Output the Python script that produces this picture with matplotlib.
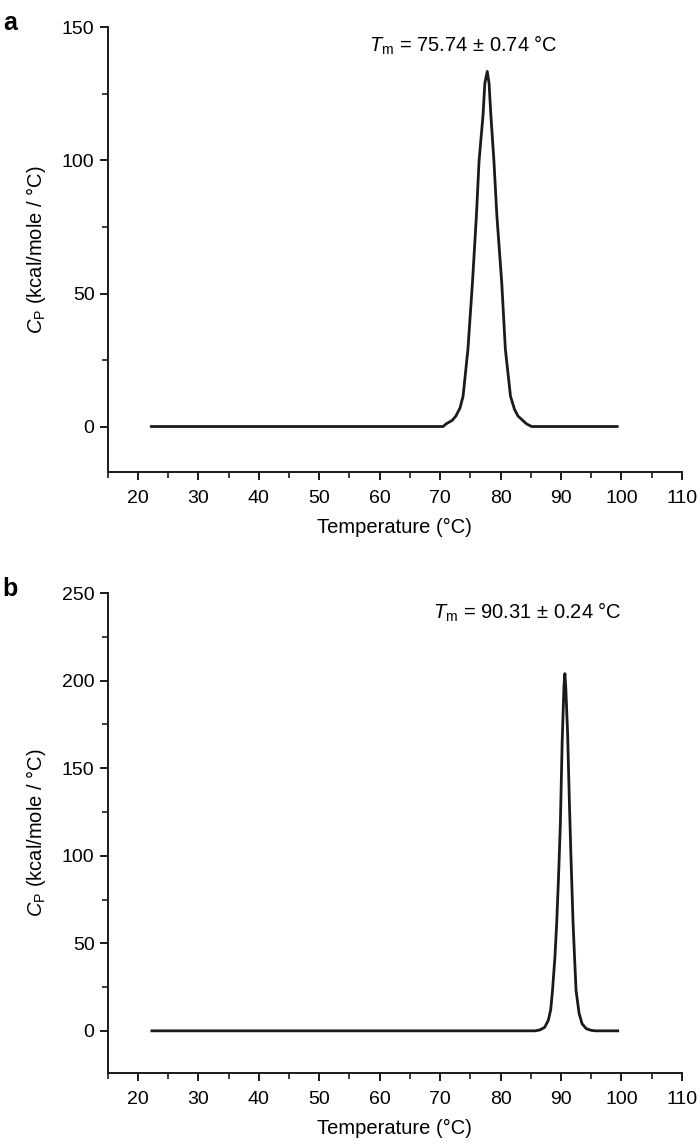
import matplotlib.pyplot as plt
from matplotlib.ticker import MultipleLocator

plt.rcParams['font.family'] = ['Liberation Sans', 'DejaVu Sans']
plt.rcParams['mathtext.fontset'] = 'custom'
plt.rcParams['mathtext.rm'] = 'Liberation Sans'
plt.rcParams['mathtext.it'] = 'Liberation Sans:italic'

# panel a: DSC trace
temp_a = [22.2, 70.5, 71.0, 72.0, 72.6, 73.3, 73.8, 74.6, 75.35, 76.0, 76.45, 77.1, 77.4, 77.8,
          78.1, 78.4, 78.9, 79.4, 80.2, 80.8, 81.65, 82.3, 82.9, 84.3, 85.15, 99.3]
cp_a = [0, 0, 1, 2.3, 3.9, 7, 11.4, 29, 54, 79, 100, 117, 129, 133.5,
        129, 117, 100, 79, 54, 29, 11.4, 6.5, 3.9, 1, 0, 0]

# panel b
temp_b = [22.3, 85.7, 86.5, 87.3, 87.9, 88.3, 88.6, 89.0, 89.3, 89.6, 89.9, 90.2,
          90.5, 90.65, 90.8, 91.1, 91.4, 91.65, 92.0, 92.25, 92.5, 93.0, 93.5,
          94.2, 95.0, 95.7, 99.4]
cp_b = [0, 0, 0.5, 2, 6, 12, 23, 42, 62, 88, 118, 165,
        197, 204, 196, 170, 130, 100, 62, 42, 23, 10, 4,
        1.2, 0.3, 0, 0]

panels = [
    dict(letter='a', x=temp_a, y=cp_a, ylim=(-17, 150),
         note=r'$\mathit{T}_\mathrm{m}$ = 75.74 $\pm$ 0.74 °C', note_x=73.9,
         rect=[0.154, 0.588, 0.82, 0.388]),
    dict(letter='b', x=temp_b, y=cp_b, ylim=(-24, 250),
         note=r'$\mathit{T}_\mathrm{m}$ = 90.31 $\pm$ 0.24 °C', note_x=84.5,
         rect=[0.154, 0.063, 0.82, 0.419]),
]

fig = plt.figure(figsize=(7, 11.45), dpi=100)

for p in panels:
    ax = fig.add_axes(p['rect'])
    ax.plot(p['x'], p['y'], color='#1a1a1a', lw=2.0)
    ax.set_xlim(15, 110)
    ax.set_ylim(*p['ylim'])
    ax.xaxis.set_minor_locator(MultipleLocator(5))
    ax.yaxis.set_minor_locator(MultipleLocator(25))
    ax.set_xticks(range(20, 111, 10))
    ax.set_yticks(range(0, int(p['ylim'][1]) + 1, 50))
    for s in ('top', 'right'):
        ax.spines[s].set_visible(False)
    for s in ('left', 'bottom'):
        ax.spines[s].set_linewidth(1.4)
        ax.spines[s].set_color('#1a1a1a')
    ax.tick_params(which='major', length=6, width=1.4, labelsize=14, color='#1a1a1a')
    ax.tick_params(axis='x', which='major', pad=7)
    ax.tick_params(which='minor', length=4, width=1.2, color='#1a1a1a')
    ax.set_xlabel('Temperature (°C)', fontsize=14.5, labelpad=8)
    ax.set_ylabel(r'$\mathit{C}_\mathrm{P}$ (kcal/mole / °C)', fontsize=14.5, labelpad=10)
    ax.text(p['note_x'], p['ylim'][1] * 0.955, p['note'], fontsize=14.5,
            ha='center', va='center')
    top = p['rect'][1] + p['rect'][3]
    fig.text(0.004, top + 0.014, p['letter'], fontsize=18, fontweight='bold',
             ha='left', va='top')

fig.savefig('out.png', dpi=100)
